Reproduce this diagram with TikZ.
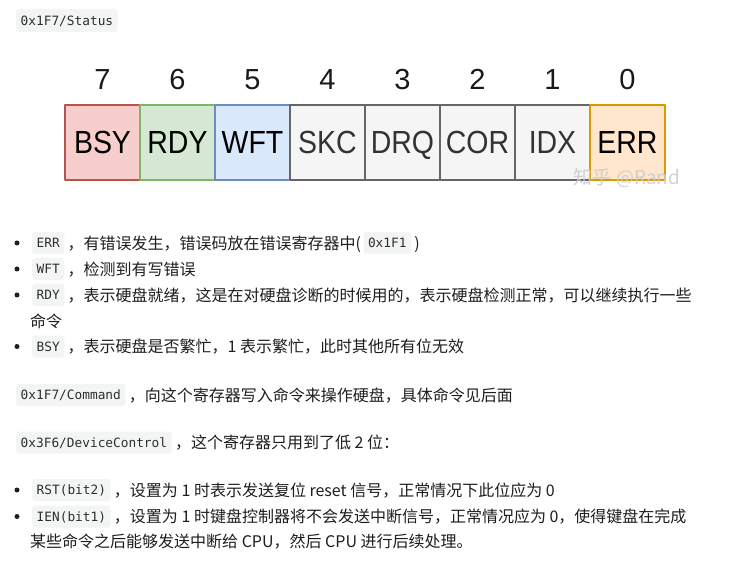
\documentclass[tikz,border=0pt]{standalone}
\usepackage{fontspec}
\usepackage{graphicx}
\usetikzlibrary{positioning}
\newfontfamily\cjkfont{Noto Sans CJK SC}
\newfontfamily\regsans{Liberation Sans}
\newfontfamily\regmono{DejaVu Sans Mono}
\definecolor{ink}{HTML}{1E1E1E}
\definecolor{codeink}{HTML}{2E2E2E}
\definecolor{codebg}{HTML}{F3F4F4}
\definecolor{bsyfill}{HTML}{F8CECC}\definecolor{bsyline}{HTML}{B85450}
\definecolor{rdyfill}{HTML}{D5E8D4}\definecolor{rdyline}{HTML}{82B366}
\definecolor{wftfill}{HTML}{DAE8FC}\definecolor{wftline}{HTML}{6C8EBF}
\definecolor{offfill}{HTML}{F5F5F5}\definecolor{offline}{HTML}{666666}
\definecolor{offtext}{HTML}{333333}
\definecolor{errfill}{HTML}{FFE6CC}\definecolor{errline}{HTML}{D79B00}

\begin{document}
\begin{tikzpicture}[x=1pt,y=-1pt,line join=round,
  regbox/.style={minimum size=75pt,inner sep=0pt,line width=1.6pt,
    text height=23pt,text depth=0pt,
    font=\regsans\fontsize{32}{32}\selectfont},
  bitnum/.style={inner sep=0pt,text=black!90,
    font=\regsans\fontsize{29}{29}\selectfont},
  codebox/.style={fill=codebg,rounded corners=3pt,inner xsep=4.5pt,inner ysep=0pt,
    minimum height=22pt,text height=10.3pt,text depth=1pt,anchor=west,
    text=codeink,font=\regmono\fontsize{12.8}{14}\selectfont},
  para/.style={inner sep=0pt,text height=12.2pt,text depth=0pt,anchor=west,
    text=ink,font=\cjkfont\fontsize{16}{18}\selectfont},
  bullet/.style={circle,fill=ink,inner sep=0pt,minimum size=5pt}]
  \fill[white] (0,0) rectangle (732,567);
  \useasboundingbox (0,0) rectangle (732,567);

  % status register
  \node[codebox,minimum height=23pt] (status) at (16,20.5) {0x1F7/Status};
  \foreach \i/\name/\fc/\dc/\tc in
   {0/BSY/bsyfill/bsyline/black,1/RDY/rdyfill/rdyline/black,
    2/WFT/wftfill/wftline/black,3/SKC/offfill/offline/offtext,
    4/DRQ/offfill/offline/offtext,5/COR/offfill/offline/offtext,
    6/IDX/offfill/offline/offtext,7/ERR/errfill/errline/black}{
    \pgfmathtruncatemacro\bitno{7-\i}
    \node[regbox,fill=\fc,draw=\dc,text=\tc] (\name) at ({102.5+75*\i},142.5)
      {\scalebox{0.89}[1]{\name}};
    \node[bitnum,anchor=base] (b\bitno) at ([yshift=14.3pt]\name.north) {\bitno};
  }
  \node[inner sep=0pt,text=gray!40,opacity=.9,
    font=\cjkfont\fontsize{19}{19}\selectfont] (mark) at (627,178) {知乎 @Rand};

  % status bits
  \node[bullet] (p1) at (17,243) {};
  \node[codebox] (err) at (32,243) {ERR};
  \node[para,right=3pt of err] (t1) {，有错误发生，错误码放在错误寄存器中(};
  \node[codebox,right=2pt of t1] (hex) {0x1F1};
  \node[para,right=3pt of hex] (t1b) {)};

  \node[bullet] (p2) at (17,269) {};
  \node[codebox] (wft) at (32,269) {WFT};
  \node[para,right=3pt of wft] (t2) {，检测到有写错误};

  \node[bullet] (p3) at (17,295) {};
  \node[codebox] (rdy) at (32,295) {RDY};
  \node[para,right=3pt of rdy] (t3)
    {，表示硬盘就绪，这是在对硬盘诊断的时候用的，表示硬盘检测正常，可以继续执行一些};
  \node[para] (t3b) at (30,321) {命令};

  \node[bullet] (p4) at (17,346.5) {};
  \node[codebox] (bsy) at (32,346.5) {BSY};
  \node[para,right=3pt of bsy] (t4) {，表示硬盘是否繁忙，1 表示繁忙，此时其他所有位无效};

  % command / control registers
  \node[codebox] (cmd) at (16,395) {0x1F7/Command};
  \node[para,right=3pt of cmd] (t5) {，向这个寄存器写入命令来操作硬盘，具体命令见后面};

  \node[codebox] (ctl) at (16,442.5) {0x3F6/DeviceControl};
  \node[para,right=3pt of ctl] (t6) {，这个寄存器只用到了低 2 位：};

  \node[bullet] (p5) at (17,490) {};
  \node[codebox] (rst) at (32,490) {RST(bit2)};
  \node[para,right=3pt of rst] (t7) {，设置为 1 时表示发送复位 reset 信号，正常情况下此位应为 0};

  \node[bullet] (p6) at (17,516.5) {};
  \node[codebox] (ien) at (32,516.5) {IEN(bit1)};
  \node[para,right=3pt of ien] (t8)
    {，设置为 1 时键盘控制器将不会发送中断信号，正常情况应为 0，使得键盘在完成};
  \node[para] (t8b) at (30,541.5) {某些命令之后能够发送中断给 CPU，然后 CPU 进行后续处理。};
\end{tikzpicture}
\end{document}
